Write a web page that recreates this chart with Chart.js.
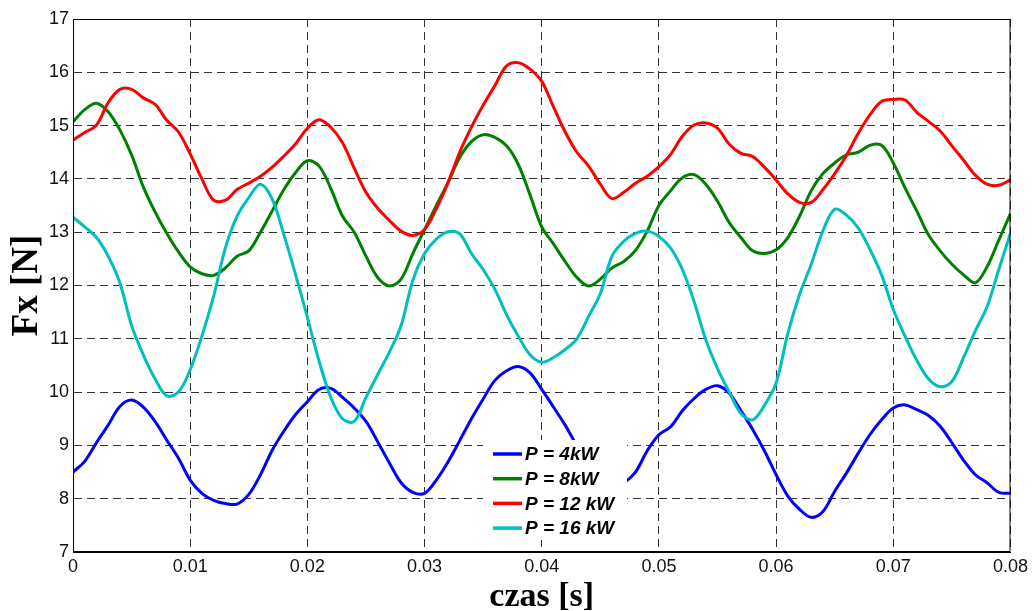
<!DOCTYPE html>
<html>
<head>
<meta charset="utf-8">
<script src="https://cdn.jsdelivr.net/npm/chart.js@4"></script>
<style>
  html, body { margin: 0; padding: 0; background: #fff; }
  #wrap { width: 1032px; height: 611px; position: relative; }
</style>
</head>
<body>
<div id="wrap"><canvas id="fxChart"></canvas></div>
<script>
    // time axis [s], one sample per 1 ms
    var czas = [0, 0.001, 0.002, 0.003, 0.004, 0.005, 0.006, 0.007, 0.008, 0.009,
        0.010, 0.011, 0.012, 0.013, 0.014, 0.015, 0.016, 0.017, 0.018, 0.019,
        0.020, 0.021, 0.022, 0.023, 0.024, 0.025, 0.026, 0.027, 0.028, 0.029,
        0.030, 0.031, 0.032, 0.033, 0.034, 0.035, 0.036, 0.037, 0.038, 0.039,
        0.040, 0.041, 0.042, 0.043, 0.044, 0.045, 0.046, 0.047, 0.048, 0.049,
        0.050, 0.051, 0.052, 0.053, 0.054, 0.055, 0.056, 0.057, 0.058, 0.059,
        0.060, 0.061, 0.062, 0.063, 0.064, 0.065, 0.066, 0.067, 0.068, 0.069,
        0.070, 0.071, 0.072, 0.073, 0.074, 0.075, 0.076, 0.077, 0.078, 0.079, 0.080];

    // Fx [N] for each power
    var fx4kW = [8.50, 8.70, 9.05, 9.38, 9.73, 9.85, 9.72, 9.45, 9.10, 8.76,
        8.35, 8.10, 7.97, 7.91, 7.90, 8.08, 8.45, 8.91, 9.27, 9.58,
        9.82, 10.05, 10.07, 9.90, 9.70, 9.45, 9.07, 8.67, 8.30, 8.12,
        8.10, 8.35, 8.69, 9.09, 9.50, 9.87, 10.22, 10.40, 10.48, 10.36,
        10.05, 9.72, 9.38, 9.00, 8.70, 8.40, 8.22, 8.30, 8.50, 8.90,
        9.20, 9.35, 9.65, 9.88, 10.05, 10.12, 9.98, 9.65, 9.30, 8.90,
        8.45, 8.05, 7.80, 7.65, 7.76, 8.14, 8.48, 8.85, 9.20, 9.48,
        9.70, 9.76, 9.67, 9.56, 9.36, 9.05, 8.72, 8.45, 8.30, 8.12, 8.10];

    var fx8kW = [15.07, 15.30, 15.42, 15.26, 14.92, 14.45, 13.85, 13.38, 12.98, 12.63,
        12.35, 12.22, 12.19, 12.33, 12.55, 12.65, 13.00, 13.40, 13.80, 14.12,
        14.34, 14.24, 13.82, 13.30, 13.00, 12.55, 12.15, 11.99, 12.12, 12.60,
        13.05, 13.50, 13.93, 14.40, 14.70, 14.83, 14.78, 14.62, 14.27, 13.70,
        13.10, 12.78, 12.45, 12.15, 11.99, 12.12, 12.33, 12.45, 12.66, 13.02,
        13.50, 13.78, 14.02, 14.08, 13.90, 13.58, 13.18, 12.90, 12.65, 12.60,
        12.67, 12.90, 13.30, 13.78, 14.10, 14.30, 14.45, 14.50, 14.63, 14.63,
        14.30, 13.83, 13.40, 12.95, 12.65, 12.40, 12.20, 12.05, 12.35, 12.85, 13.35];

    var fx12kW = [14.73, 14.87, 15.01, 15.43, 15.68, 15.68, 15.52, 15.40, 15.10, 14.88,
        14.47, 14.00, 13.60, 13.60, 13.80, 13.92, 14.05, 14.22, 14.43, 14.66,
        14.95, 15.11, 14.97, 14.68, 14.20, 13.75, 13.45, 13.22, 13.02, 12.94,
        13.05, 13.44, 13.93, 14.50, 14.97, 15.38, 15.75, 16.12, 16.18, 16.06,
        15.83, 15.35, 14.88, 14.50, 14.24, 13.90, 13.63, 13.75, 13.92, 14.05,
        14.23, 14.46, 14.80, 15.01, 15.05, 14.95, 14.65, 14.48, 14.42, 14.22,
        13.98, 13.72, 13.56, 13.56, 13.80, 14.10, 14.44, 14.85, 15.20, 15.45,
        15.49, 15.48, 15.25, 15.08, 14.90, 14.62, 14.35, 14.07, 13.90, 13.88, 13.98];

    var fx16kW = [13.28, 13.10, 12.90, 12.55, 12.05, 11.25, 10.70, 10.25, 9.93, 10.00,
        10.42, 11.05, 11.80, 12.70, 13.30, 13.65, 13.90, 13.62, 12.95, 12.20,
        11.40, 10.58, 9.90, 9.50, 9.45, 9.90, 10.33, 10.75, 11.25, 12.10,
        12.60, 12.87, 13.01, 12.97, 12.60, 12.30, 11.93, 11.45, 11.05, 10.70,
        10.56, 10.65, 10.80, 11.00, 11.42, 11.85, 12.55, 12.83, 12.98, 13.02,
        12.92, 12.70, 12.30, 11.70, 10.98, 10.44, 10.00, 9.60, 9.48, 9.75,
        10.17, 11.10, 11.83, 12.40, 13.03, 13.43, 13.32, 13.08, 12.68, 12.20,
        11.55, 11.05, 10.60, 10.25, 10.10, 10.20, 10.65, 11.15, 11.60, 12.30, 12.98];

    var seriesLabels = ['P = 4kW', 'P = 8kW', 'P = 12 kW', 'P = 16 kW'];
    var seriesColors = ['#0000ff', '#008000', '#ff0000', '#00bfbf'];
    var xTickLabels = ['0', '0.01', '0.02', '0.03', '0.04', '0.05', '0.06', '0.07', '0.08'];
    var yTickLabels = ['7', '8', '9', '10', '11', '12', '13', '14', '15', '16', '17'];

    function pts(vals) {
        return vals.map(function (v, i) { return { x: czas[i], y: v }; });
    }

    var allSeries = [fx4kW, fx8kW, fx12kW, fx16kW];
    var datasets = allSeries.map(function (vals, i) {
        return {
            label: seriesLabels[i],
            data: pts(vals),
            borderColor: seriesColors[i],
            backgroundColor: seriesColors[i],
            borderWidth: 3,
            pointRadius: 0,
            tension: 0.35,
            order: 4 - i
        };
    });

    // legend box inside the plot + closing frame (top and right edges)
    var boxPlugin = {
        id: 'boxLegend',
        afterDatasetsDraw: function (chart) {
            var ctx = chart.ctx, a = chart.chartArea;
            ctx.save();
            var bx = 483, by = 440, bw = 144, bh = 100;
            ctx.fillStyle = '#fff';
            ctx.fillRect(bx, by, bw, bh);
            ctx.font = 'italic bold 19px "Liberation Sans", Arial, sans-serif';
            ctx.textBaseline = 'middle';
            ctx.textAlign = 'left';
            chart.data.datasets.forEach(function (ds, i) {
                var ly = 454 + i * 24.7;
                ctx.strokeStyle = ds.borderColor;
                ctx.lineWidth = 3.5;
                ctx.beginPath();
                ctx.moveTo(493, ly);
                ctx.lineTo(522, ly);
                ctx.stroke();
                ctx.fillStyle = '#000';
                ctx.fillText(ds.label, 525, ly + 1);
            });
            ctx.strokeStyle = '#000';
            ctx.lineWidth = 1;
            ctx.strokeRect(a.left + 0.5, a.top + 0.5, a.right - a.left - 1, a.bottom - a.top - 1);
            ctx.restore();
        }
    };

    var ctx = document.getElementById('fxChart').getContext('2d');
    var fxChart = new Chart(ctx, {
        type: 'line',
        data: { datasets: datasets },
        options: {
            responsive: true,
            maintainAspectRatio: false,
            animation: false,
            layout: { padding: { left: 0, top: 19, right: 20, bottom: 0 } },
            plugins: { legend: { display: false }, tooltip: { enabled: false } },
            scales: {
                x: {
                    type: 'linear',
                    min: 0,
                    max: 0.08,
                    afterFit: function (s) { s.height = 59; },
                    ticks: {
                        stepSize: 0.01,
                        padding: 4,
                        maxRotation: 0,
                        color: '#111',
                        font: { family: '"Liberation Sans", Arial, sans-serif', size: 18 },
                        callback: function (v, i) { return xTickLabels[i]; }
                    },
                    grid: { color: 'rgba(0,0,0,0.8)', lineWidth: 1, drawTicks: false },
                    border: { display: true, color: '#000', width: 1, dash: [8, 5] },
                    title: {
                        display: true,
                        text: 'czas [s]',
                        color: '#000',
                        padding: { top: 0, bottom: 0 },
                        font: { family: '"Liberation Serif", "Times New Roman", serif', size: 34, weight: 'bold', lineHeight: 0.82 }
                    }
                },
                y: {
                    min: 7,
                    max: 17,
                    afterFit: function (s) { s.width = 73; },
                    ticks: {
                        stepSize: 1,
                        padding: 4,
                        color: '#111',
                        font: { family: '"Liberation Sans", Arial, sans-serif', size: 18 },
                        callback: function (v, i) { return yTickLabels[i]; }
                    },
                    grid: { color: 'rgba(0,0,0,0.8)', lineWidth: 1, drawTicks: false },
                    border: { display: true, color: '#000', width: 1, dash: [8, 5] },
                    title: {
                        display: true,
                        text: 'Fx [N]',
                        color: '#000',
                        padding: { top: 9, bottom: 0 },
                        font: { family: '"Liberation Serif", "Times New Roman", serif', size: 37, weight: 'bold', lineHeight: 1 }
                    }
                }
            }
        },
        plugins: [boxPlugin]
    });
</script>
</body>
</html>
